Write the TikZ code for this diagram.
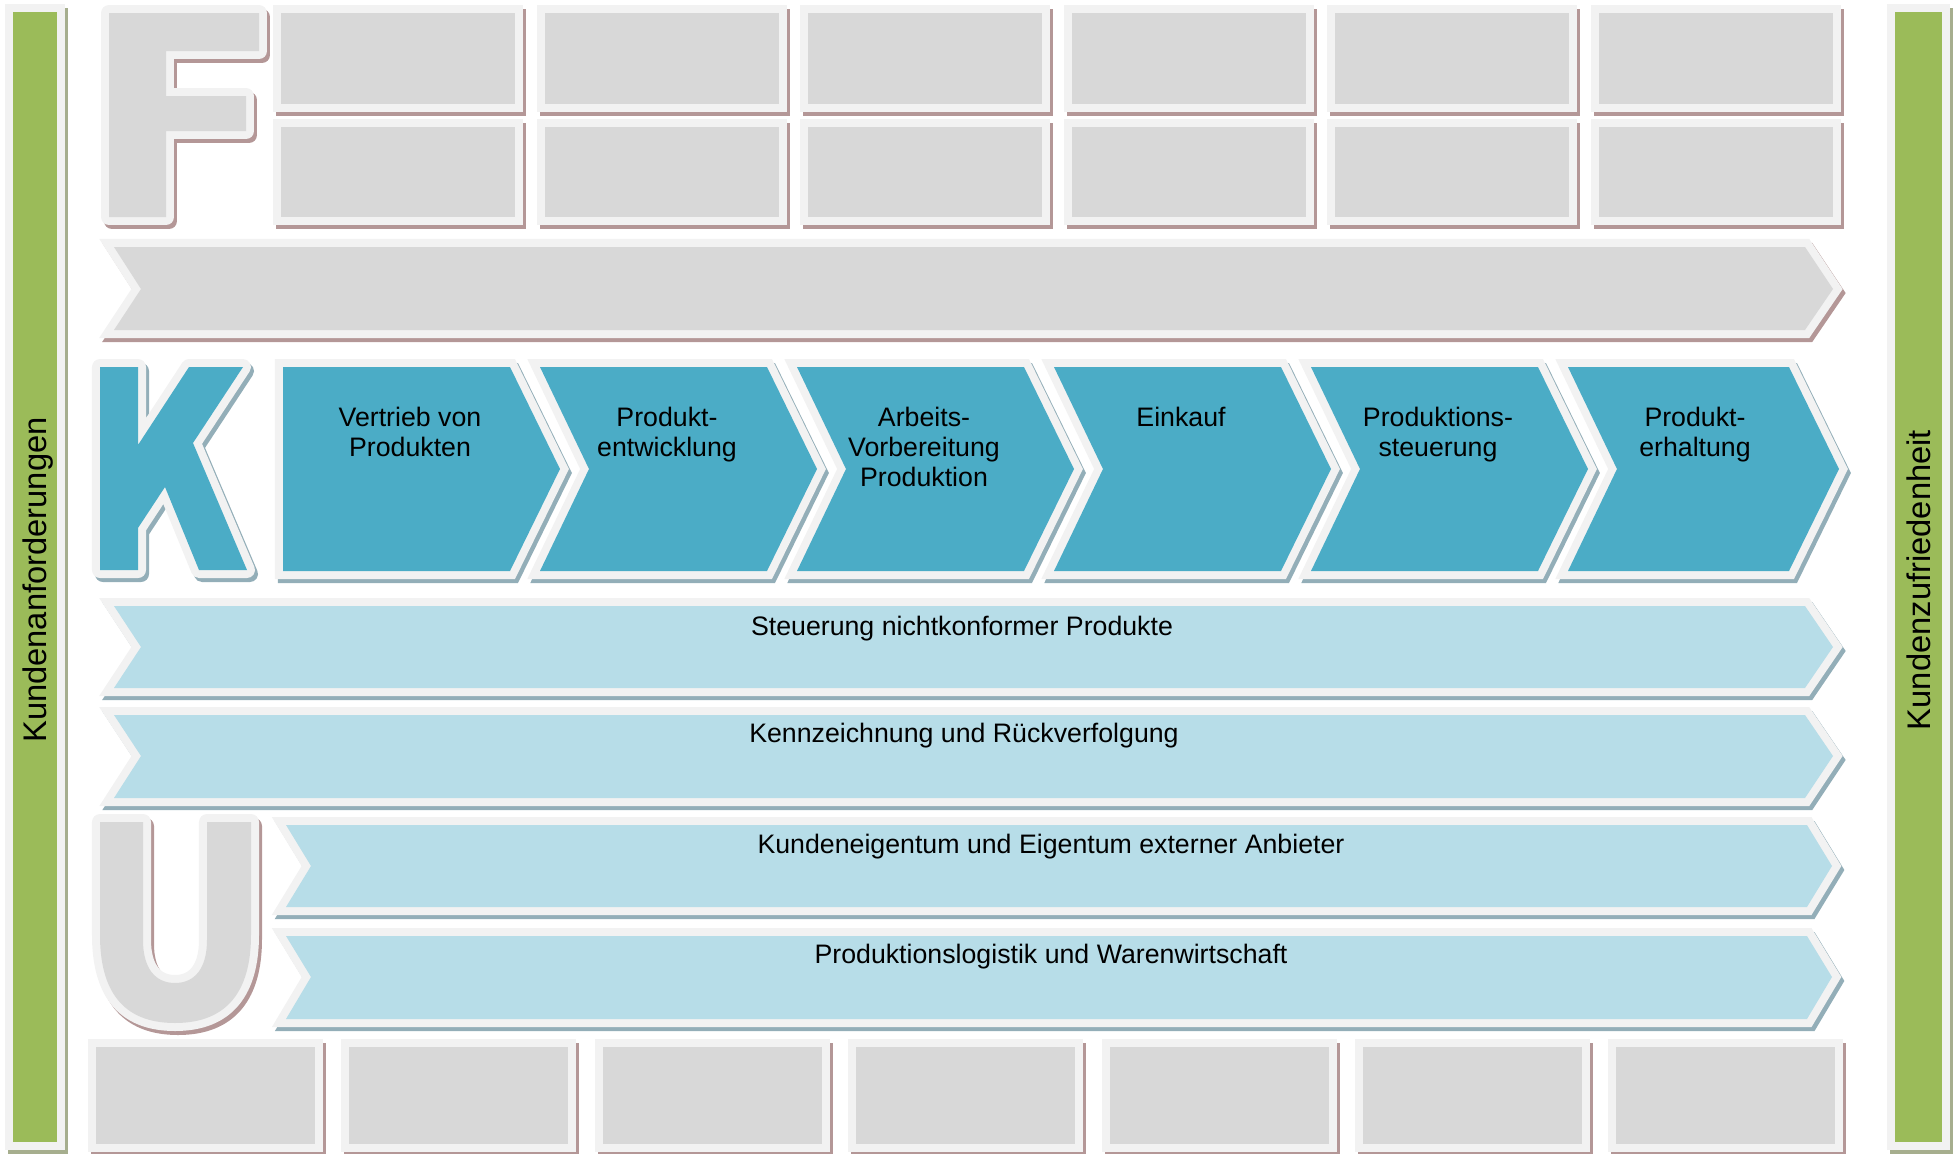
\documentclass[tikz,border=0pt]{standalone}
\usepackage{fontspec}
\setmainfont{Liberation Sans}
\definecolor{framegray}{HTML}{F2F2F2}
\definecolor{boxgray}{HTML}{D8D8D8}
\definecolor{shadowrose}{HTML}{B49797}
\definecolor{procblue}{HTML}{4BACC6}
\definecolor{barblue}{HTML}{B7DDE8}
\definecolor{shadowblue}{HTML}{93AEB8}
\definecolor{sidegreen}{HTML}{9BBB59}
\definecolor{shadowolive}{HTML}{A6AE8E}
\newcommand{\plate}[4][]{%
  \path[#1, fill=#3, draw=#3, line width=0.16cm, shift={(3,4)}] #4;
  \path[#1, fill=framegray, draw=framegray, line width=0.16cm] #4;
  \path[#1, fill=#2] #4;}

\begin{document}
\begin{tikzpicture}[x=0.01cm, y=-0.01cm, proc/.style={font=\fontsize{7.6}{8.54}\selectfont, align=center, anchor=north, inner sep=0pt}, bartext/.style={font=\fontsize{7.6}{9}\selectfont, anchor=base, inner sep=0pt}, side/.style={font=\fontsize{9.3}{11}\selectfont, rotate=90, anchor=base, inner sep=0pt}]
\useasboundingbox (0,0) rectangle (1959,1154);
\plate{sidegreen}{shadowolive}{(13,12) rectangle (57,1142)}
\plate{sidegreen}{shadowolive}{(1895,12) rectangle (1942,1142)}
\plate[line join=round]{boxgray}{shadowrose}{(109,13) -- (259,13) -- (259,51) -- (166,51) -- (166,96) -- (246,96) -- (246,131) -- (166,131) -- (166,217) -- (109,217) -- cycle}
\foreach \c in {0,...,5} {
  \pgfmathsetmacro{\xa}{281+263.6*\c}
  \plate{boxgray}{shadowrose}{(\xa,13) rectangle (\xa+234,104)}
  \plate{boxgray}{shadowrose}{(\xa,127) rectangle (\xa+234,217)}
}
\plate{boxgray}{shadowrose}{(114,247) -- (1805,247) -- (1833,289) -- (1805,330) -- (114,330) -- (141,289) -- cycle}
\plate[line join=round]{procblue}{shadowblue}{(100,367) -- (138,367) -- (138,445) -- (189,367) -- (243,367) -- (193,443) -- (247,570) -- (199,570) -- (165,487) -- (138,528) -- (138,570) -- (100,570) -- cycle}
\foreach \i/\w/\name/\txt in {0/227/sales/{Vertrieb von\\Produkten}, 1/227/devel/{Produkt-\\entwicklung}, 2/227/prep/{Arbeits-\\Vorbereitung\\Produktion}, 3/227/purch/{Einkauf}, 4/227/ctrl/{Produktions-\\steuerung}, 5/221/maint/{Produkt-\\erhaltung}} {
  \pgfmathsetmacro{\xl}{283+257*\i}
  \ifnum\i=0
    \plate[miter limit=2]{procblue}{shadowblue}{(\xl,367) -- (\xl+\w,367) -- (\xl+\w+50,469) -- (\xl+\w,571) -- (\xl,571) -- cycle}
  \else
    \plate[miter limit=2]{procblue}{shadowblue}{(\xl,367) -- (\xl+\w,367) -- (\xl+\w+50,469) -- (\xl+\w,571) -- (\xl,571) -- (\xl+49,469) -- cycle}
  \fi
  \node[proc] (\name) at (\xl+127,406) {\txt};
}
\plate{barblue}{shadowblue}{(114,606) -- (1805,606) -- (1833,647) -- (1805,688) -- (114,688) -- (141,647) -- cycle}
\plate{barblue}{shadowblue}{(114,715) -- (1805,715) -- (1833,756) -- (1805,798) -- (114,798) -- (141,756) -- cycle}
\plate{barblue}{shadowblue}{(286,825) -- (1807,825) -- (1832,866) -- (1807,907) -- (286,907) -- (311,866) -- cycle}
\plate{barblue}{shadowblue}{(286,936) -- (1807,936) -- (1832,977) -- (1807,1019) -- (286,1019) -- (311,977) -- cycle}
\plate[line join=round]{boxgray}{shadowrose}{(100,822) -- (143,822) -- (143,940) .. controls (143,968) and (155,983) .. (175,983) .. controls (195,983) and (207,968) .. (207,940) -- (207,822) -- (251,822) -- (251,935) .. controls (251,990) and (228,1023) .. (175,1023) .. controls (122,1023) and (100,990) .. (100,935) -- cycle}
\foreach \c in {0,...,6} {
  \pgfmathsetmacro{\xa}{96+253.4*\c}
  \plate{boxgray}{shadowrose}{(\xa,1047) rectangle (\xa+219,1144)}
}
\node[bartext] (nonconf) at (962,635) {Steuerung nichtkonformer Produkte};
\node[bartext] (trace) at (964,742) {Kennzeichnung und Rückverfolgung};
\node[bartext] (property) at (1051,853) {Kundeneigentum und Eigentum externer Anbieter};
\node[bartext] (logistics) at (1051,963) {Produktionslogistik und Warenwirtschaft};
\node[side] (req) at (46.5,580) {Kundenanforderungen};
\node[side] (sat) at (1930,580) {Kundenzufriedenheit};
\end{tikzpicture}
\end{document}
